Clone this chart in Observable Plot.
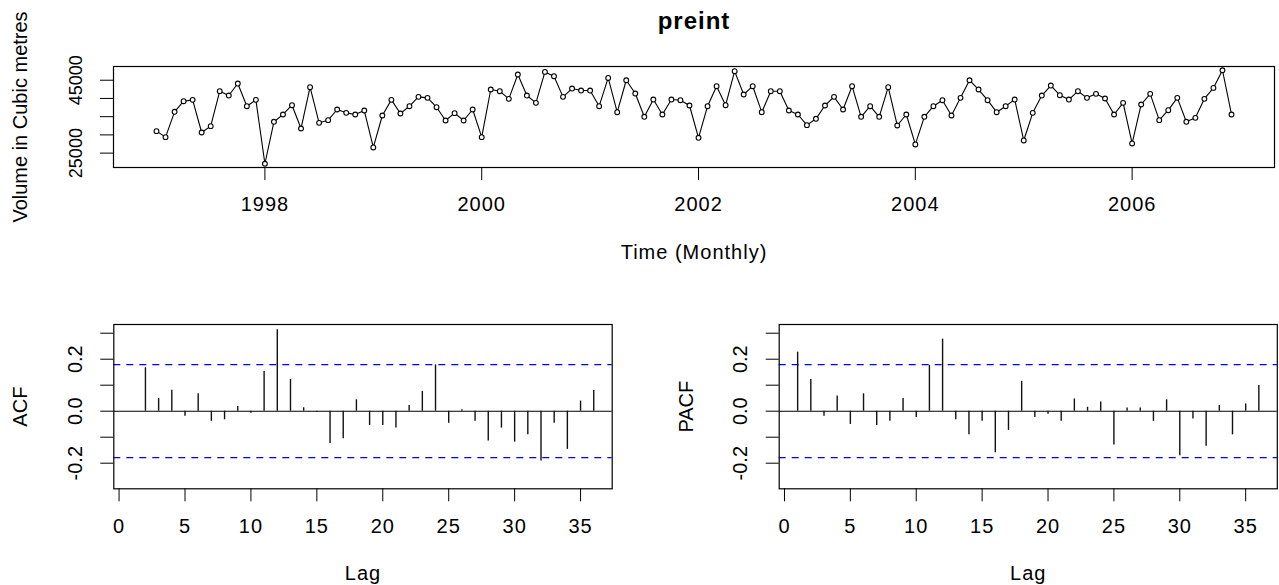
<!DOCTYPE html>
<html><head><meta charset="utf-8">
<script src="https://cdn.jsdelivr.net/npm/d3@7"></script>
<script src="https://cdn.jsdelivr.net/npm/@observablehq/plot@0.6"></script>
<style>
html,body{margin:0;padding:0;background:#fff;}
#root{position:relative;width:1279px;height:585px;overflow:hidden;font-family:"Liberation Sans",Arial,sans-serif;}
#root > div{position:absolute;}
.rot text{letter-spacing:0;}
</style></head>
<body>
<div id="root"><div id="top" style="left:0;top:0"></div><div id="acf" style="left:0;top:270px"></div><div id="pacf" style="left:650px;top:270px"></div></div>
<script>
const chartTitle = "preint";
const yLabel = "Volume in Cubic metres";
const xLabel = "Time (Monthly)";
const startYear = 1997; // monthly series from January 1997
const volume = [
  31030, 29380, 36330, 39250, 39610, 30660, 32400, 42000, 40800, 44090, 37880, 39610,
  22080, 33590, 35600, 38150, 31760, 43090, 33310, 34040, 36970, 36050, 35600, 36690,
  26550, 35320, 39610, 35870, 37880, 40440, 40160, 37600, 33950, 35960, 33950, 36970,
  29380, 42450, 41990, 39890, 46560, 40800, 38790, 47290, 46100, 40440, 42720, 42170,
  42170, 37880, 45630, 36230, 45000, 41350, 34960, 39700, 35600, 39700, 39520, 38060,
  29200, 37880, 43360, 38150, 47470, 41080, 43360, 36230, 41990, 41990, 36690, 35600,
  32670, 34410, 38060, 40440, 36970, 43360, 34960, 37880, 34960, 43090, 32580, 35600,
  27380, 34960, 37880, 39520, 35320, 40160, 45000, 42450, 39520, 36230, 37880, 39700,
  28470, 36050, 40800, 43540, 40890, 39700, 41990, 40160, 41260, 39980, 35600, 38790,
  27650, 38340, 41260, 34040, 36780, 40160, 33590, 34680, 39890, 42900, 47740, 35600
];
const yearTicks = [1998, 2000, 2002, 2004, 2006];
const volumeTicks = [25000, 30000, 35000, 40000, 45000];
const volumeTickLabels = [25000, 45000];

const lags = d3.range(1, 37);
const acfValues = [
  0.000, 0.167, 0.049, 0.081, -0.019, 0.067, -0.039, -0.033, 0.018, -0.008, 0.153, 0.313,
  0.122, 0.013, -0.003, -0.124, -0.106, 0.044, -0.055, -0.055, -0.065, 0.022, 0.076, 0.178,
  -0.046, 0.006, -0.039, -0.115, -0.065, -0.119, -0.091, -0.192, -0.046, -0.147, 0.039, 0.080
];
const pacfValues = [
  0.227, 0.122, -0.019, 0.058, -0.051, 0.067, -0.055, -0.039, 0.049, -0.024, 0.176, 0.277,
  -0.033, -0.091, -0.039, -0.160, -0.074, 0.115, -0.024, -0.012, -0.039, 0.047, 0.015, 0.035,
  -0.130, 0.012, 0.012, -0.039, 0.044, -0.171, -0.030, -0.135, 0.022, -0.091, 0.028, 0.099
];
const lagTicks = [0, 5, 10, 15, 20, 25, 30, 35];
const corrTicks = [-0.2, -0.1, 0, 0.1, 0.2, 0.3];
const corrTickValues = [-0.2, 0, 0.2];
const corrTickTexts = ["-0.2", "0.0", "0.2"];
const corrLimits = [-0.2985, 0.3335];
const ciBound = 1.96 / Math.sqrt(volume.length);

const ext = (lo, hi) => [lo - (hi - lo) * 0.04, hi + (hi - lo) * 0.04];
const baseStyle = {fontFamily: '"Liberation Sans", Arial, sans-serif', fontSize: "20px", letterSpacing: "1px", color: "black", background: "transparent", overflow: "visible"};

const series = volume.map((v, i) => ({t: startYear + i / 12, v}));

const topPlot = Plot.plot({
  width: 1279, height: 270,
  marginTop: 66, marginBottom: 103, marginLeft: 113, marginRight: 5,
  style: baseStyle,
  x: {domain: ext(series[0].t, series[series.length - 1].t), axis: null},
  y: {domain: ext(d3.min(volume), d3.max(volume)), axis: null},
  marks: [
    Plot.frame({stroke: "black", strokeWidth: 1.2}),
    Plot.line(series, {x: "t", y: "v", stroke: "black", strokeWidth: 1.1}),
    Plot.dot(series, {x: "t", y: "v", r: 2.4, stroke: "black", strokeWidth: 1.1, fill: "white"}),
    Plot.axisX({ticks: yearTicks, tickSize: 13, tickPadding: 16.5, tickFormat: d => String(d), stroke: "black", label: null}),
    Plot.axisY({ticks: volumeTicks, tickSize: 13, tickFormat: () => "", stroke: "black", label: null}),
    Plot.text(volumeTickLabels, {y: d => d, text: d => String(d), frameAnchor: "left", dx: -31.3, rotate: -90, textAnchor: "middle", lineAnchor: "bottom", fill: "black", fontSize: 18, className: "rot"}),
    Plot.text([yLabel], {text: d => d, frameAnchor: "left", dx: -86.5, rotate: -90, textAnchor: "middle", lineAnchor: "bottom", fill: "black", className: "rot"}),
    Plot.text([xLabel], {text: d => d, frameAnchor: "bottom", dy: 91, lineAnchor: "bottom", fill: "black"}),
    Plot.text([chartTitle], {text: d => d, frameAnchor: "top", dy: -38, lineAnchor: "bottom", fontSize: 24, fontWeight: "bold", fill: "black"})
  ]
});
document.getElementById("top").appendChild(topPlot);

function corrPanel(values, label, width, marginLeft, marginRight) {
  const data = lags.map((k, i) => ({lag: k, r: values[i]}));
  return Plot.plot({
    width, height: 315,
    marginTop: 54, marginBottom: 96.7, marginLeft, marginRight,
    style: baseStyle,
    x: {domain: ext(lags[0], lags[lags.length - 1]), axis: null},
    y: {domain: corrLimits, axis: null},
    marks: [
      Plot.ruleY([ciBound, -ciBound], {stroke: "blue", strokeWidth: 1.3, strokeDasharray: "7,6"}),
      Plot.ruleY([0], {stroke: "black", strokeWidth: 1.1}),
      Plot.ruleX(data, {x: "lag", y1: 0, y2: "r", stroke: "#111", strokeWidth: 1.4}),
      Plot.frame({stroke: "black", strokeWidth: 1.2}),
      Plot.axisX({ticks: lagTicks, tickSize: 13, tickPadding: 16.5, tickFormat: d => String(d), stroke: "black", label: null}),
      Plot.axisY({ticks: corrTicks, tickSize: 13, tickFormat: () => "", stroke: "black", label: null}),
      Plot.text(corrTickValues, {y: d => d, text: (d, i) => corrTickTexts[i], frameAnchor: "left", dx: -32, rotate: -90, textAnchor: "middle", lineAnchor: "bottom", fill: "black", className: "rot"}),
      Plot.text([label], {text: d => d, frameAnchor: "left", dx: -86.7, rotate: -90, textAnchor: "middle", lineAnchor: "bottom", fill: "black", className: "rot"}),
      Plot.text(["Lag"], {text: d => d, frameAnchor: "bottom", dy: 91, lineAnchor: "bottom", fill: "black"})
    ]
  });
}
document.getElementById("acf").appendChild(corrPanel(acfValues, "ACF", 650, 113.3, 38.3));
document.getElementById("pacf").appendChild(corrPanel(pacfValues, "PACF", 629, 128.7, 2.2));
</script>
</body></html>
